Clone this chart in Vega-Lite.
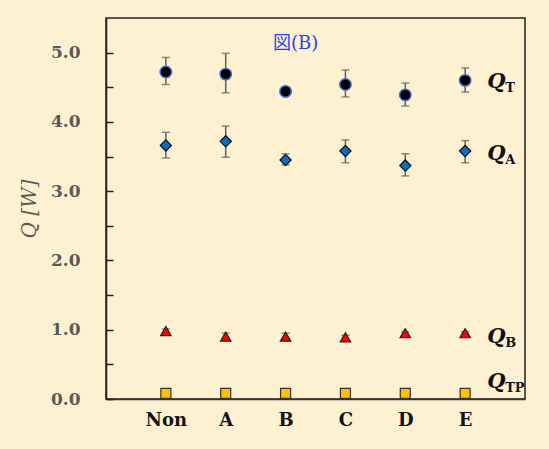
{
  "$schema": "https://vega.github.io/schema/vega-lite/v6.json",
  "width": 419,
  "height": 381,
  "autosize": {"type": "none"},
  "padding": {"left": 106, "top": 18, "right": 24, "bottom": 50},
  "background": "#FEF1D2",
  "config": {
    "view": {"stroke": "#222222", "strokeWidth": 1.5},
    "font": "DejaVu Serif"
  },
  "datasets": {
    "pts": [
      {"cat": "Non", "series": "QT", "q": 4.72, "lo": 4.54, "hi": 4.93},
      {"cat": "A", "series": "QT", "q": 4.69, "lo": 4.42, "hi": 4.99},
      {"cat": "B", "series": "QT", "q": 4.44, "lo": 4.39, "hi": 4.50},
      {"cat": "C", "series": "QT", "q": 4.54, "lo": 4.36, "hi": 4.75},
      {"cat": "D", "series": "QT", "q": 4.39, "lo": 4.23, "hi": 4.56},
      {"cat": "E", "series": "QT", "q": 4.60, "lo": 4.43, "hi": 4.78},
      {"cat": "Non", "series": "QA", "q": 3.66, "lo": 3.48, "hi": 3.85},
      {"cat": "A", "series": "QA", "q": 3.72, "lo": 3.49, "hi": 3.94},
      {"cat": "B", "series": "QA", "q": 3.45, "lo": 3.38, "hi": 3.54},
      {"cat": "C", "series": "QA", "q": 3.58, "lo": 3.41, "hi": 3.74},
      {"cat": "D", "series": "QA", "q": 3.37, "lo": 3.22, "hi": 3.54},
      {"cat": "E", "series": "QA", "q": 3.58, "lo": 3.41, "hi": 3.73},
      {"cat": "Non", "series": "QB", "q": 0.98, "lo": 0.95, "hi": 1.01},
      {"cat": "A", "series": "QB", "q": 0.90, "lo": 0.86, "hi": 0.95},
      {"cat": "B", "series": "QB", "q": 0.90, "lo": 0.86, "hi": 0.95},
      {"cat": "C", "series": "QB", "q": 0.89, "lo": 0.86, "hi": 0.92},
      {"cat": "D", "series": "QB", "q": 0.95, "lo": 0.93, "hi": 0.97},
      {"cat": "E", "series": "QB", "q": 0.95, "lo": 0.93, "hi": 0.97},
      {"cat": "Non", "series": "QTP", "q": 0.08, "lo": 0.08, "hi": 0.08},
      {"cat": "A", "series": "QTP", "q": 0.08, "lo": 0.08, "hi": 0.08},
      {"cat": "B", "series": "QTP", "q": 0.08, "lo": 0.08, "hi": 0.08},
      {"cat": "C", "series": "QTP", "q": 0.08, "lo": 0.08, "hi": 0.08},
      {"cat": "D", "series": "QTP", "q": 0.08, "lo": 0.08, "hi": 0.08},
      {"cat": "E", "series": "QTP", "q": 0.08, "lo": 0.08, "hi": 0.08}
    ],
    "labels": [
      {"sub": "T", "q": 4.58},
      {"sub": "A", "q": 3.53},
      {"sub": "B", "q": 0.89},
      {"sub": "TP", "q": 0.24}
    ],
    "title": [{"text": "図(B)", "q": 5.12}]
  },
  "encoding": {
    "x": {
      "field": "cat",
      "type": "nominal",
      "sort": ["Non", "A", "B", "C", "D", "E"],
      "scale": {"type": "point", "padding": 1, "domain": ["Non", "A", "B", "C", "D", "E"]},
      "axis": {
        "title": null,
        "domainColor": "#333333",
        "domainWidth": 1.5,
        "ticks": false,
        "labelAngle": 0,
        "labelPadding": 12,
        "labelFont": "DejaVu Serif",
        "labelFontSize": 18,
        "labelFontWeight": "bold",
        "labelColor": "#111111"
      }
    },
    "y": {
      "field": "q",
      "type": "quantitative",
      "scale": {"domain": [0, 5.5], "nice": false, "zero": true},
      "axis": {
        "title": "Q [W]",
        "titleFont": "DejaVu Serif",
        "titleFontSize": 20,
        "titleFontWeight": "normal",
        "titleFontStyle": "italic",
        "titleColor": "#5a5a5a",
        "titlePadding": 11,
        "values": [0, 0.5, 1, 1.5, 2, 2.5, 3, 3.5, 4, 4.5, 5],
        "labelExpr": "datum.value % 1 == 0 ? format(datum.value, '.1f') : ''",
        "grid": false,
        "domainColor": "#222222",
        "domainWidth": 1.5,
        "tickColor": "#222222",
        "tickWidth": 1.5,
        "tickSize": -7,
        "labelPadding": 33,
        "labelFont": "DejaVu Serif",
        "labelFontSize": 17,
        "labelFontWeight": "bold",
        "labelColor": "#5a5a5a"
      }
    }
  },
  "layer": [
    {
      "data": {"name": "pts"},
      "mark": {"type": "rule", "color": "#606060", "strokeWidth": 1.5},
      "encoding": {"y": {"field": "lo", "type": "quantitative"}, "y2": {"field": "hi"}}
    },
    {
      "data": {"name": "pts"},
      "mark": {"type": "tick", "color": "#606060", "size": 8, "thickness": 1.5, "orient": "horizontal"},
      "encoding": {"y": {"field": "lo", "type": "quantitative"}}
    },
    {
      "data": {"name": "pts"},
      "mark": {"type": "tick", "color": "#606060", "size": 8, "thickness": 1.5, "orient": "horizontal"},
      "encoding": {"y": {"field": "hi", "type": "quantitative"}}
    },
    {
      "data": {"name": "pts"},
      "transform": [{"filter": "datum.series == 'QT'"}],
      "mark": {"type": "point", "shape": "circle", "filled": true, "fill": "#000000", "stroke": "#3b6fd0", "strokeWidth": 1.5, "size": 130, "opacity": 1}
    },
    {
      "data": {"name": "pts"},
      "transform": [{"filter": "datum.series == 'QA'"}],
      "mark": {"type": "point", "shape": "diamond", "filled": true, "fill": "#0a6fc0", "stroke": "#111111", "strokeWidth": 1.2, "size": 125, "opacity": 1}
    },
    {
      "data": {"name": "pts"},
      "transform": [{"filter": "datum.series == 'QB'"}],
      "mark": {"type": "point", "shape": "triangle-up", "filled": true, "fill": "#ff0000", "stroke": "#222222", "strokeWidth": 1.2, "size": 110, "opacity": 1}
    },
    {
      "data": {"name": "pts"},
      "transform": [{"filter": "datum.series == 'QTP'"}],
      "mark": {"type": "point", "shape": "square", "filled": true, "fill": "#ffc000", "stroke": "#333333", "strokeWidth": 1.2, "size": 100, "opacity": 1}
    },
    {
      "data": {"name": "labels"},
      "mark": {"type": "text", "text": "Q", "align": "left", "baseline": "middle", "dx": 22, "font": "DejaVu Serif", "fontSize": 21, "fontWeight": "bold", "fontStyle": "italic", "color": "#111111"},
      "encoding": {"x": {"datum": "E", "type": "nominal"}}
    },
    {
      "data": {"name": "labels"},
      "mark": {"type": "text", "align": "left", "baseline": "middle", "dx": 40, "dy": 6, "font": "DejaVu Serif", "fontSize": 13, "fontWeight": "bold", "color": "#111111"},
      "encoding": {"x": {"datum": "E", "type": "nominal"}, "text": {"field": "sub"}}
    },
    {
      "data": {"name": "title"},
      "mark": {"type": "text", "align": "center", "baseline": "middle", "dx": 10, "font": "DejaVu Serif, Noto Sans CJK JP", "fontSize": 18, "color": "#2244ee"},
      "encoding": {"x": {"datum": "B", "type": "nominal"}, "text": {"field": "text"}}
    }
  ]
}
